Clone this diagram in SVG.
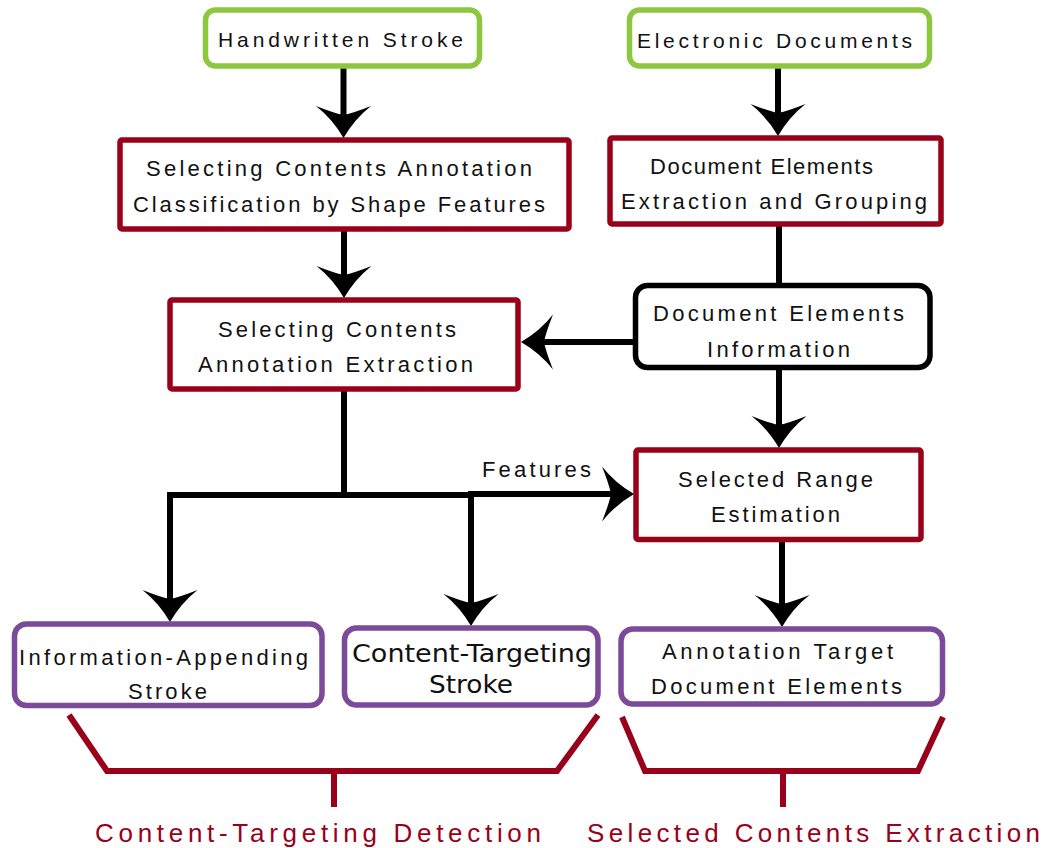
<svg xmlns="http://www.w3.org/2000/svg" width="1046" height="848" viewBox="0 0 1046 848">
<style>
.g{fill:#fff;stroke:#8DC63F;stroke-width:5.5}
.r{fill:#fff;stroke:#99001A;stroke-width:5.5}
.k{fill:#fff;stroke:#000;stroke-width:5.5}
.p{fill:#fff;stroke:#7B4A99;stroke-width:5.5}
text{font-family:"Liberation Sans",Arial,sans-serif;font-size:22px;fill:#111}
.m{font-family:"DejaVu Sans","Liberation Sans",sans-serif;font-size:24px}
.lbl{font-size:26px;fill:#99001A}
.c{fill:none;stroke:#000;stroke-width:6}
.b{fill:none;stroke:#99001A;stroke-width:6}
</style>
<defs>
<marker id="ah" viewBox="-36 -30 60 60" refX="-20" refY="0" markerWidth="60" markerHeight="60" markerUnits="userSpaceOnUse" orient="auto" overflow="visible">
<path d="M0,0 Q-19,-11 -32,-27.5 Q-25,-10 -23,0 Q-25,10 -32,27.5 Q-19,11 0,0 Z" fill="#000"/>
</marker>
</defs>
<g id="connectors">
<path class="c" d="M343.5,68 V118" marker-end="url(#ah)"/>
<path class="c" d="M778,68 V116" marker-end="url(#ah)"/>
<path class="c" d="M344,231 V278" marker-end="url(#ah)"/>
<path class="c" d="M779,226 V285"/>
<path class="c" d="M634,342 H541" marker-end="url(#ah)"/>
<path class="c" d="M779,369 V428" marker-end="url(#ah)"/>
<path class="c" d="M344,390 V495"/>
<path class="c" d="M167,495 H471"/>
<path class="c" d="M468,494 H614" marker-end="url(#ah)"/>
<path class="c" d="M170,492 V602" marker-end="url(#ah)"/>
<path class="c" d="M471,492 V606" marker-end="url(#ah)"/>
<path class="c" d="M782,541 V607" marker-end="url(#ah)"/>
<text x="482" y="477" textLength="109" lengthAdjust="spacing">Features</text>
</g>
<g id="n_hand">
<rect class="g" x="205.5" y="10" width="274" height="56" rx="10"/>
<text x="218" y="47" style="font-size:21px" textLength="245" lengthAdjust="spacing">Handwritten Stroke</text>
</g>
<g id="n_elec">
<rect class="g" x="629.5" y="10" width="300" height="56" rx="10"/>
<text x="637" y="48" style="font-size:21px" textLength="275" lengthAdjust="spacing">Electronic Documents</text>
</g>
<g id="n_class">
<rect class="r" x="120" y="140" width="449" height="89" rx="2"/>
<text x="146" y="176" textLength="386" lengthAdjust="spacing">Selecting Contents Annotation</text>
<text x="133" y="212" textLength="412" lengthAdjust="spacing">Classification by Shape Features</text>
</g>
<g id="n_docext">
<rect class="r" x="610" y="138" width="331" height="86" rx="2"/>
<text x="650" y="174" textLength="223" lengthAdjust="spacing">Document Elements</text>
<text x="621" y="209" textLength="306" lengthAdjust="spacing">Extraction and Grouping</text>
</g>
<g id="n_extr">
<rect class="r" x="170" y="300" width="348" height="89" rx="2"/>
<text x="218" y="337" textLength="238" lengthAdjust="spacing">Selecting Contents</text>
<text x="198" y="372" textLength="275" lengthAdjust="spacing">Annotation Extraction</text>
</g>
<g id="n_info">
<rect class="k" x="635.5" y="285.5" width="294.5" height="82" rx="12"/>
<text x="653" y="321" textLength="251" lengthAdjust="spacing">Document Elements</text>
<text x="707" y="357" textLength="143" lengthAdjust="spacing">Information</text>
</g>
<g id="n_range">
<rect class="r" x="636" y="450" width="285" height="89.5" rx="2"/>
<text x="678" y="487" textLength="195" lengthAdjust="spacing">Selected Range</text>
<text x="711" y="522" textLength="129" lengthAdjust="spacing">Estimation</text>
</g>
<g id="n_iapp">
<rect class="p" x="14.5" y="624" width="307.5" height="81.5" rx="12"/>
<text x="19" y="665" textLength="289" lengthAdjust="spacing">Information-Appending</text>
<text x="128" y="699" textLength="79" lengthAdjust="spacing">Stroke</text>
</g>
<g id="n_ctgt">
<rect class="p" x="344.5" y="628" width="253.5" height="77" rx="12"/>
<text class="m" x="352" y="662" textLength="240" lengthAdjust="spacingAndGlyphs">Content-Targeting</text>
<text class="m" x="429" y="693" textLength="84" lengthAdjust="spacingAndGlyphs">Stroke</text>
</g>
<g id="n_anno">
<rect class="p" x="621" y="629" width="321.5" height="75" rx="12"/>
<text x="662" y="659" textLength="231" lengthAdjust="spacing">Annotation Target</text>
<text x="651" y="694" textLength="251" lengthAdjust="spacing">Document Elements</text>
</g>
<g id="brackets">
<path class="b" d="M69,715 L107,771 H557 L598,715 M334,771 V807"/>
<path class="b" d="M622,717 L645,771 H918 L943,717 M783,771 V807"/>
<text class="lbl" x="95" y="842" textLength="446" lengthAdjust="spacing">Content-Targeting Detection</text>
<text class="lbl" x="587" y="842" textLength="453" lengthAdjust="spacing">Selected Contents Extraction</text>
</g>
</svg>
